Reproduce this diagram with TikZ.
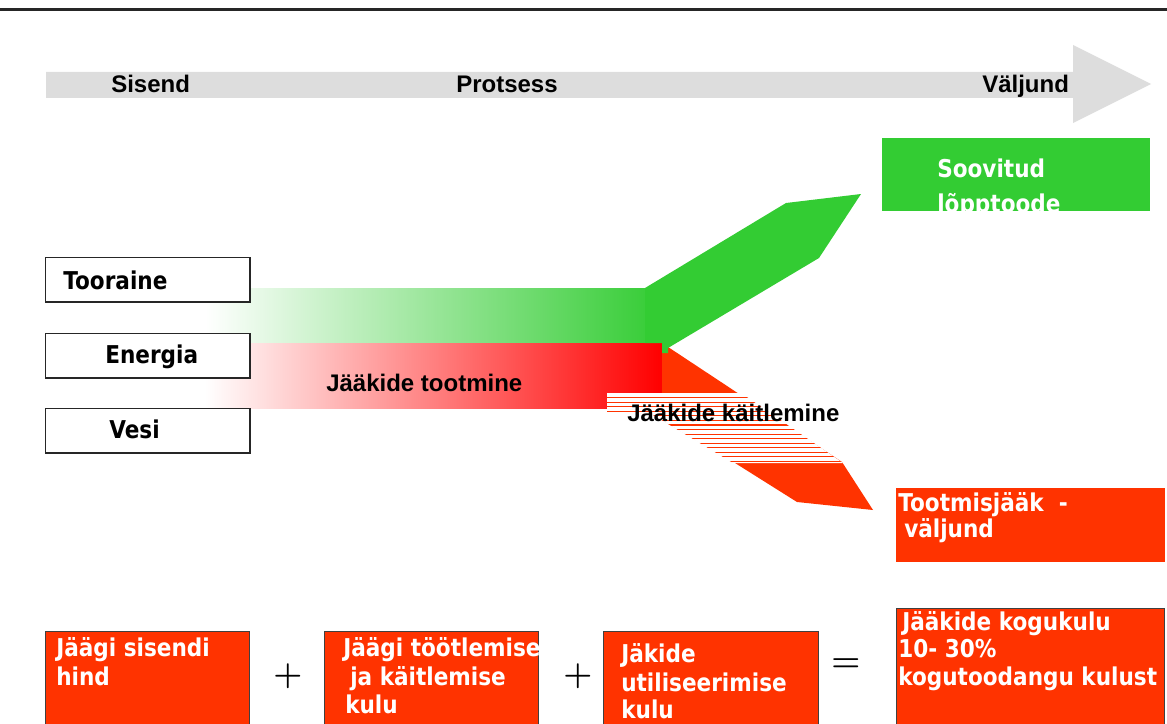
\documentclass[tikz,border=0pt]{standalone}
\usepackage{fontspec}
\newfontfamily\arl{Liberation Sans}
\newfontfamily\tah{DejaVu Sans}[FakeStretch=0.88]
\definecolor{grn}{HTML}{33CC33}
\definecolor{org}{HTML}{FF3300}
\definecolor{arrowgray}{HTML}{DDDDDD}
\begin{document}
\begin{tikzpicture}[x=0.75pt,y=-0.75pt,
  lab/.style={font=\arl\bfseries\fontsize{18}{20}\selectfont, anchor=base west, inner sep=0pt},
  boxtxt/.style={font=\tah\bfseries\fontsize{18.4}{20}\selectfont, anchor=base west, inner sep=0pt},
  wtxt/.style={boxtxt, text=white},
  inbox/.style={draw=black!85, line width=0.9pt, fill=white, anchor=north west, inner sep=0pt, outer sep=0pt, minimum width=153.2pt, minimum height=33.5pt},
  costbox/.style={draw=black!75, line width=0.75pt, fill=org, anchor=north west, inner sep=0pt, outer sep=0pt},
  colbox/.style={anchor=north west, inner sep=0pt, outer sep=0pt, minimum width=201pt, minimum height=55pt},
  opsign/.style={font=\fontsize{26}{26}\selectfont\boldmath, inner sep=0pt},
]
\useasboundingbox (0,0) rectangle (1167,724);

% top rule
\draw[line width=1.7pt, black!85] (0,9.5) -- (1167,9.5);

% process arrow
\fill[arrowgray] (46,72) -- (1073,72) -- (1073,45) -- (1151,84) -- (1073,123) -- (1073,98) -- (46,98) -- cycle;
\node[lab] (sisend) at (111,93) {Sisend};
\node[lab] (protsess) at (456,93) {Protsess};
\node[lab] (valjund) at (982,93) {Väljund};

% gradient bands
\shade[left color=white, middle color=grn!32, right color=grn] (205,288) rectangle (662,343);
\shade[left color=white, middle color=red!32, right color=red] (205,343) rectangle (662,408.5);

% residue branch (orange)
\fill[org] (662,343) -- (842,462) -- (873,510) -- (797,502) -- (735,463) -- (662,420) -- cycle;
% product branch (green)
\fill[grn] (645,288) -- (786,203) -- (861,194) -- (819,258) -- (668,348) -- (668,353) -- (662,353) -- (662,343) -- (645,343) -- cycle;

% hatched part
\begin{scope}
  \clip (607,393) -- (741,393) -- (843,463) -- (733,463) -- (648,412) -- (607,412) -- cycle;
  \fill[white] (600,390) rectangle (850,470);
  \foreach \k in {0,...,14} {
    \draw[org, line width=0.8pt] (600,{397.7+4.55*\k}) -- (850,{397.7+4.55*\k});
  }
\end{scope}

\node[lab] (tootmine) at (326,391.7) {Jääkide tootmine};
\node[lab] (kaitlemine) at (627,421.7) {Jääkide käitlemine};

% input boxes
\node[inbox] (tooraineBox) at (45.7,257.3) {};
\node[inbox] (energiaBox) at (45.7,333.3) {};
\node[inbox] (vesiBox) at (45.7,408.3) {};
\node[boxtxt] (tooraine) at (63,289.3) {Tooraine};
\node[boxtxt] (energia) at (105,363) {Energia};
\node[boxtxt] (vesi) at (109,438.3) {Vesi};

% output boxes
\node[colbox, fill=grn] (soovBox) at (882,138) {};
\begin{scope}
  \clip (882,138) rectangle (1150,211);
  \node[wtxt] (soov1) at (937,177) {Soovitud};
  \node[wtxt] (soov2) at (937,212.5) {lõpptoode};
\end{scope}
\node[colbox, fill=org, minimum width=201.75pt] (jaakBox) at (896,488.3) {};
\node[wtxt] (jaak1) at (898,511.7) {Tootmisjääk\ \ -};
\node[wtxt] (jaak2) at (904,537.3) {väljund};

% cost equation
\node[costbox, minimum width=153.2pt, minimum height=75pt] (c1) at (45.7,631.7) {};
\node[costbox, minimum width=160.7pt, minimum height=75pt] (c2) at (324.7,631) {};
\node[costbox, minimum width=161.25pt, minimum height=75pt] (c3) at (603,631) {};
\node[costbox, minimum width=201pt, minimum height=91.5pt] (c4) at (896,608) {};

\node[wtxt] (c1a) at (56,656) {Jäägi sisendi};
\node[wtxt] (c1b) at (56,685) {hind};
\node[wtxt] (c2a) at (343,656) {Jäägi töötlemise};
\node[wtxt] (c2b) at (350,685) {ja käitlemise};
\node[wtxt] (c2c) at (345,713) {kulu};
\node[wtxt] (c3a) at (621,662) {Jäkide};
\node[wtxt] (c3b) at (621,691) {utiliseerimise};
\node[wtxt] (c3c) at (621,718) {kulu};
\node[wtxt] (c4a) at (902,630) {Jääkide kogukulu};
\node[wtxt] (c4b) at (898,657) {10- 30\%};
\node[wtxt] (c4c) at (898,685) {kogutoodangu kulust};

\node[opsign] (plus1) at (288,676) {$+$};
\node[opsign] (plus2) at (578,676) {$+$};
\node[opsign] (eq) at (846,665) {$=$};
\end{tikzpicture}
\end{document}
